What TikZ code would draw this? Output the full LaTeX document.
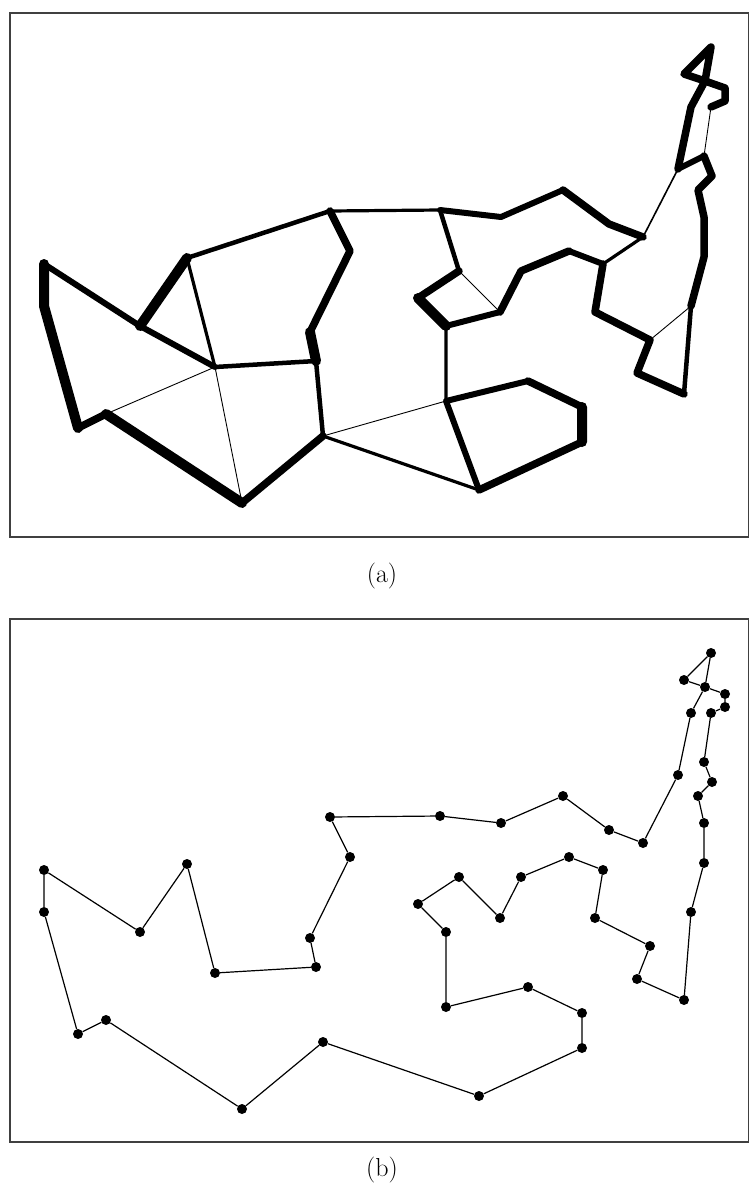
\documentclass[tikz,border=0pt]{standalone}
\begin{document}
\begin{tikzpicture}[
  x=1pt, y=-1pt,
  frame/.style={draw=black!75, line width=1.4pt},
  city/.style={circle, fill=black, inner sep=0pt, minimum size=10pt},
  tour/.style={line width=1.2pt},
  hairline/.style={line width=0.9pt},
  lineS/.style={line width=3.2pt, line cap=round, line join=round},
  lineM/.style={line width=4.5pt, line cap=round, line join=round},
  lineL/.style={line width=6pt, line cap=round, line join=round},
  lineXL/.style={line width=7.5pt, line cap=round, line join=round},
  lineXXL/.style={line width=10pt, line cap=round, line join=round},
  caption/.style={font=\fontsize{26}{30}\selectfont}
]
\useasboundingbox (0,0) rectangle (750,1189);

% frames and captions
\draw[frame] (10,13) rectangle (748.5,537);
\draw[frame] (10,619) rectangle (748.5,1142);
\node[caption] (capa) at (382,576) {(a)};
\node[caption] (capb) at (382,1170) {(b)};

% cities: (a) uses the same points shifted up
\foreach \n/\x/\y in {1/44/870, 2/140/932, 3/187/864, 4/215/973, 5/316/967,
    6/310/938, 7/350/857, 8/330/817, 9/440/816, 10/501/823, 11/563/796,
    12/609/830, 13/643/843, 14/678/775, 15/691/713, 16/705/687, 17/684/680,
    18/711/653, 19/725/694, 20/725/707, 21/711/713, 22/704/762, 23/712/782,
    24/698/796, 25/704/823, 26/704/863, 27/691/912, 28/684/1000, 29/637/979,
    30/650/946, 31/595/918, 32/603/870, 33/569/857, 34/521/877, 35/500/918,
    36/459/877, 37/418/904, 38/446/932, 39/446/1007, 40/528/987, 41/582/1013,
    42/582/1048, 43/479/1096, 44/323/1042, 45/242/1109, 46/106/1020,
    47/78/1034, 48/44/912}{
  \coordinate (a\n) at (\x,\y-606);
  \node[city] (b\n) at (\x,\y) {};
}

% (a) weighted edges
\draw[lineXXL] (a1) -- (a48) -- (a47) (a46) -- (a45) (a2) -- (a3)
  (a6) -- (a5) (a37) -- (a38) (a41) -- (a42);
\draw[lineXL] (a47) -- (a46) (a45) -- (a44) (a8) -- (a7) -- (a6)
  (a11) -- (a12) -- (a13) (a36) -- (a37) (a35) -- (a34) -- (a33)
  (a32) -- (a31) -- (a30) -- (a29) -- (a28)
  (a27) -- (a26) -- (a25) -- (a24) -- (a23) -- (a22)
  (a14) -- (a15) -- (a16) -- (a17) -- (a18) -- (a16) -- (a19) -- (a20) -- (a21)
  (a40) -- (a41) (a42) -- (a43);
\draw[lineL] (a1) -- (a2) -- (a4) (a9) -- (a10) -- (a11) (a33) -- (a32)
  (a38) -- (a35) (a22) -- (a14) (a39) -- (a40) (a39) -- (a43);
\draw[lineM] (a3) -- (a8) (a4) -- (a5) -- (a44) (a9) -- (a36) (a28) -- (a27);
\draw[lineS] (a3) -- (a4) (a44) -- (a43) (a8) -- (a9) (a13) -- (a32)
  (a38) -- (a39);
\draw[line width=1.6pt] (a13) -- (a14);
\draw[hairline] (a4) -- (a46) (a4) -- (a45) (a44) -- (a39) (a36) -- (a35)
  (a30) -- (a27) (a21) -- (a22);

% (b) tour
\draw[tour] (b1) -- (b2) -- (b3) -- (b4) -- (b5) -- (b6) -- (b7) -- (b8)
  -- (b9) -- (b10) -- (b11) -- (b12) -- (b13) -- (b14) -- (b15) -- (b16)
  -- (b17) -- (b18) -- (b16) -- (b19) -- (b20) -- (b21) -- (b22) -- (b23)
  -- (b24) -- (b25) -- (b26) -- (b27) -- (b28) -- (b29) -- (b30) -- (b31)
  -- (b32) -- (b33) -- (b34) -- (b35) -- (b36) -- (b37) -- (b38) -- (b39)
  -- (b40) -- (b41) -- (b42) -- (b43) -- (b44) -- (b45) -- (b46) -- (b47)
  -- (b48) -- (b1);

\end{tikzpicture}
\end{document}
